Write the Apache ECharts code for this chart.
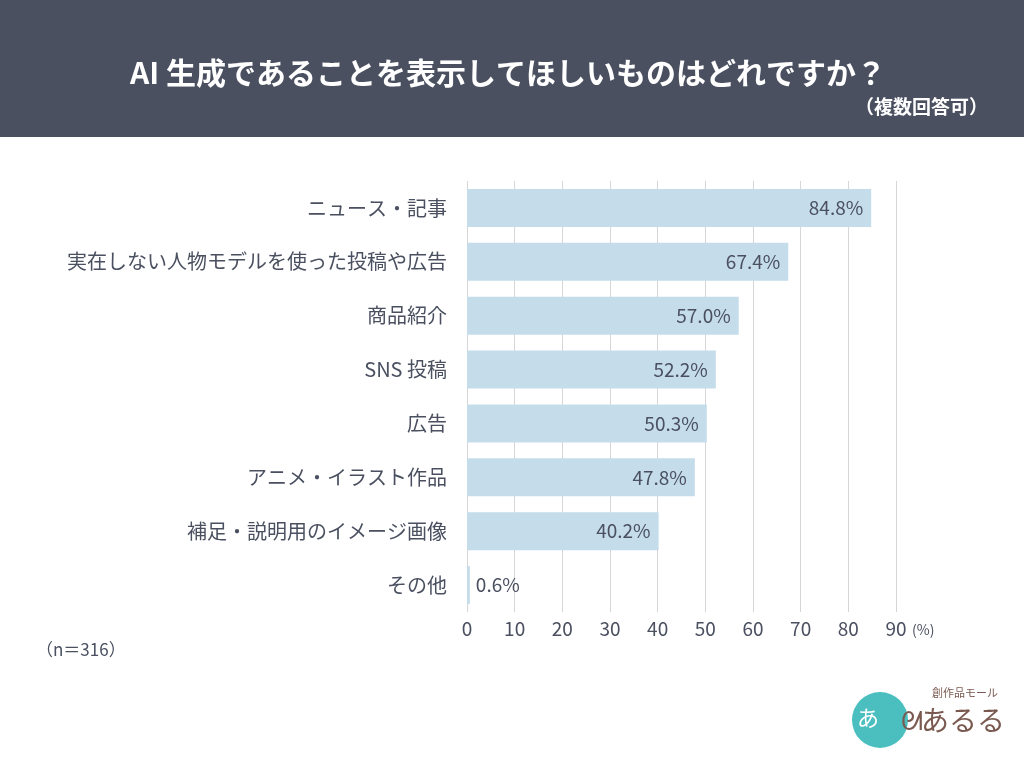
<!DOCTYPE html>
<html><head><meta charset="utf-8">
<script src="https://cdn.jsdelivr.net/npm/echarts@6/dist/echarts.min.js"></script>
<style>html,body{margin:0;padding:0;background:#fff;}#c{width:1024px;height:768px;}</style>
</head><body><div id="c"></div>
<script>
const categories = ["ニュース・記事","実在しない人物モデルを使った投稿や広告","商品紹介","SNS 投稿","広告","アニメ・イラスト作品","補足・説明用のイメージ画像","その他"];
const values = [84.8, 67.4, 57.0, 52.2, 50.3, 47.8, 40.2, 0.6];
const tickLabels = ["0","10","20","30","40","50","60","70","80","90"];
const FONT = '"Noto Sans CJK JP","Noto Sans",sans-serif';
const TXT = '#4a5060';
const chart = echarts.init(document.getElementById('c'));
chart.setOption({
  animation:false,
  backgroundColor:'#fff',
  graphic:[
    {type:'rect',shape:{x:0,y:0,width:1024,height:137},style:{fill:'#4a5060'},z:-1},
    {type:'text',x:508,y:73,style:{text:'AI 生成であることを表示してほしいものはどれですか？',fill:'#fff',font:'bold 30px '+FONT,textAlign:'center',textVerticalAlign:'middle'}},
    {type:'text',x:988,y:107,style:{text:'（複数回答可）',fill:'#fff',font:'bold 19px '+FONT,textAlign:'right',textVerticalAlign:'middle'}},
    {type:'text',x:36,y:650,style:{text:'（n＝316）',fill:TXT,font:'17px '+FONT,textAlign:'left',textVerticalAlign:'middle'}},
    {type:'text',x:912,y:630,style:{text:'(%)',fill:TXT,font:'14px '+FONT,textAlign:'left',textVerticalAlign:'middle'}},
    {type:'circle',shape:{cx:880,cy:720,r:28},style:{fill:'#4bbfc0'}},
    {type:'text',x:868,y:718,style:{text:'あ',fill:'#fff',font:'22px '+FONT,textAlign:'center',textVerticalAlign:'middle'}},
    {type:'text',x:912,y:720,style:{text:'ᘛ',fill:'#7a5a50',font:'26px '+FONT,textAlign:'center',textVerticalAlign:'middle'}},
    {type:'text',x:965,y:693,style:{text:'創作品モール',fill:'#7a5a50',font:'11px '+FONT,textAlign:'center',textVerticalAlign:'middle'}},
    {type:'text',x:963,y:720,style:{text:'あるる',fill:'#7a5a50',font:'28px '+FONT,textAlign:'center',textVerticalAlign:'middle'}}
  ],
  grid:{left:467,right:128,top:181,bottom:156,containLabel:false},
  xAxis:{type:'value',min:0,max:90,interval:10,
    axisLine:{show:false},axisTick:{show:false},
    splitLine:{lineStyle:{color:'#d6d6d6',width:1}},
    axisLabel:{color:TXT,fontSize:19,fontFamily:FONT,margin:7,formatter:(v)=>tickLabels[Math.round(v/10)]}
  },
  yAxis:{type:'category',data:categories,inverse:true,
    axisLine:{show:false},axisTick:{show:false},
    axisLabel:{color:TXT,fontSize:20,fontFamily:FONT,margin:20}
  },
  series:[{type:'bar',data:values.map(v=>v<5?{value:v,label:{position:'right',distance:6}}:v),barWidth:38,itemStyle:{color:'#c5dcea'},
    label:{show:true,fontSize:19,fontFamily:FONT,color:TXT,
      formatter:(p)=>p.value.toFixed(1)+'%',
      position:'insideRight',distance:8}
  }]
});
</script></body></html>
